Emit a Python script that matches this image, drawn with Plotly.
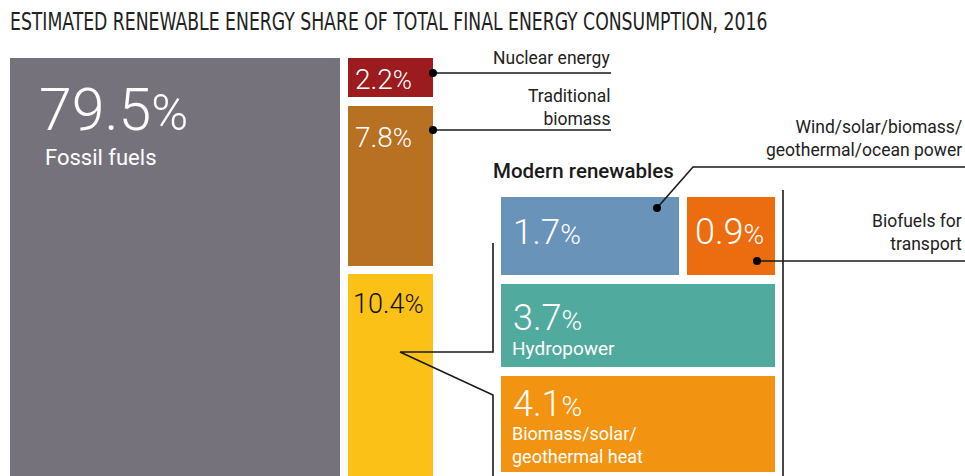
import plotly.graph_objects as go

# ---- data ----
categories = ["Fossil fuels", "Nuclear energy", "Traditional biomass", "Modern renewables",
              "Wind/solar/biomass/geothermal/ocean power", "Biofuels for transport",
              "Hydropower", "Biomass/solar/geothermal heat"]
values = [79.5, 2.2, 7.8, 10.4, 1.7, 0.9, 3.7, 4.1]
colors = ["#76727c", "#9b1b1e", "#b87022", "#fbc116", "#6a93ba", "#ec6c10", "#51aa9e", "#f29311"]
title_text = "ESTIMATED RENEWABLE ENERGY SHARE OF TOTAL FINAL ENERGY CONSUMPTION, 2016"

# ---- layout geometry (pixel-like coordinate space) ----
boxes = {
    "Fossil fuels": (10, 340, 58, 480),
    "Nuclear energy": (348, 433, 58, 97),
    "Traditional biomass": (348, 433, 106, 266),
    "Modern renewables": (348, 433, 274, 480),
    "Wind/solar/biomass/geothermal/ocean power": (501, 679, 197, 275),
    "Biofuels for transport": (687, 775, 197, 275),
    "Hydropower": (501, 775, 284, 367),
    "Biomass/solar/geothermal heat": (501, 775, 376, 472),
}

W, H = 965, 476
fig = go.Figure()

for cat, col in zip(categories, colors):
    x0, x1, y0, y1 = boxes[cat]
    fig.add_trace(go.Scatter(x=[x0, x1, x1, x0, x0], y=[y0, y0, y1, y1, y0],
                             fill="toself", fillcolor=col, mode="lines",
                             line=dict(width=0, color=col), hoverinfo="skip",
                             showlegend=False))

LC = "#1a1a1a"
def line(xs, ys):
    fig.add_trace(go.Scatter(x=xs, y=ys, mode="lines", line=dict(color=LC, width=1.6),
                             hoverinfo="skip", showlegend=False))

def dot(x, y):
    fig.add_trace(go.Scatter(x=[x], y=[y], mode="markers", marker=dict(color="#000", size=8),
                             hoverinfo="skip", showlegend=False))

# leaders
line([433, 611], [73, 73]); dot(433, 73)
line([433, 611], [130, 130]); dot(433, 130)
line([657, 693, 965], [208, 167, 167]); dot(657, 208)
line([757, 965], [261, 261]); dot(757, 261)
# bracket
line([493, 493, 400, 493, 493], [243, 352, 352, 395, 480])
line([783, 783], [190, 480])

BODY = "Roboto"
def pct(v, small):
    return f"{v}<span style='font-size:{small}px'>%</span>"

def ann(x, y, text, size, color="white", anchor="left", weight=None, family=BODY, yanchor="middle"):
    f = dict(family=family, size=size, color=color)
    if weight:
        f["weight"] = weight
    fig.add_annotation(x=x, y=y, xref="x", yref="y", text=text, showarrow=False,
                       xanchor=anchor, yanchor=yanchor, align=anchor, font=f)

v = dict(zip(categories, values))
ann(37, 109, pct(v["Fossil fuels"], 50), 59, weight=300)
ann(43, 157, "Fossil fuels", 22)
ann(353, 79, pct(v["Nuclear energy"], 26), 28, weight=300)
ann(353, 137, pct(v["Traditional biomass"], 26), 28, weight=300)
ann(351, 304, pct(v["Modern renewables"], 26), 27, color="#111", weight=300)
ann(511, 232, pct(v["Wind/solar/biomass/geothermal/ocean power"], 28), 35, weight=300)
ann(693, 232, pct(v["Biofuels for transport"], 28), 36, weight=300)
ann(511, 318, pct(v["Hydropower"], 28), 36, weight=300)
ann(510, 348, "Hydropower", 19)
ann(511, 404, pct(v["Biomass/solar/geothermal heat"], 28), 36, weight=300)
ann(510, 445, "Biomass/solar/<br>geothermal heat", 18)

ann(491, 171, "Modern renewables", 20.5, color="#1a1a1a", weight=500)
ann(612, 58, "Nuclear energy", 17.5, color="#222", anchor="right")
ann(612, 107, "Traditional<br>biomass", 17.5, color="#222", anchor="right")
ann(964, 138, "Wind/solar/biomass/<br>geothermal/ocean power", 17.5, color="#222", anchor="right")
ann(964, 232, "Biofuels for<br>transport", 17.5, color="#222", anchor="right")

fig.update_layout(width=W, height=H, margin=dict(l=0, r=0, t=0, b=0),
                  plot_bgcolor="white", paper_bgcolor="white",
                  title=dict(text=title_text, x=10 / W, xanchor="left", xref="paper",
                             y=1 - 21 / H, yanchor="middle", yref="container",
                             font=dict(family="DejaVu Sans Condensed", size=25, color="#222")),
                  xaxis=dict(range=[0, W], visible=False, fixedrange=True),
                  yaxis=dict(range=[H, 0], visible=False, fixedrange=True))

squeeze = """
document.body.style.margin='0';document.body.style.overflow='hidden';
var t=document.querySelector('.gtitle');
if(t){var bb=t.getBBox();var target=758;var s=target/bb.width;var x=bb.x;
t.setAttribute('transform','translate('+(x*(1-s))+',0) scale('+s+',1)');}
"""
fig.write_html("out.html", config={"displayModeBar": False, "staticPlot": True}, post_script=squeeze)
